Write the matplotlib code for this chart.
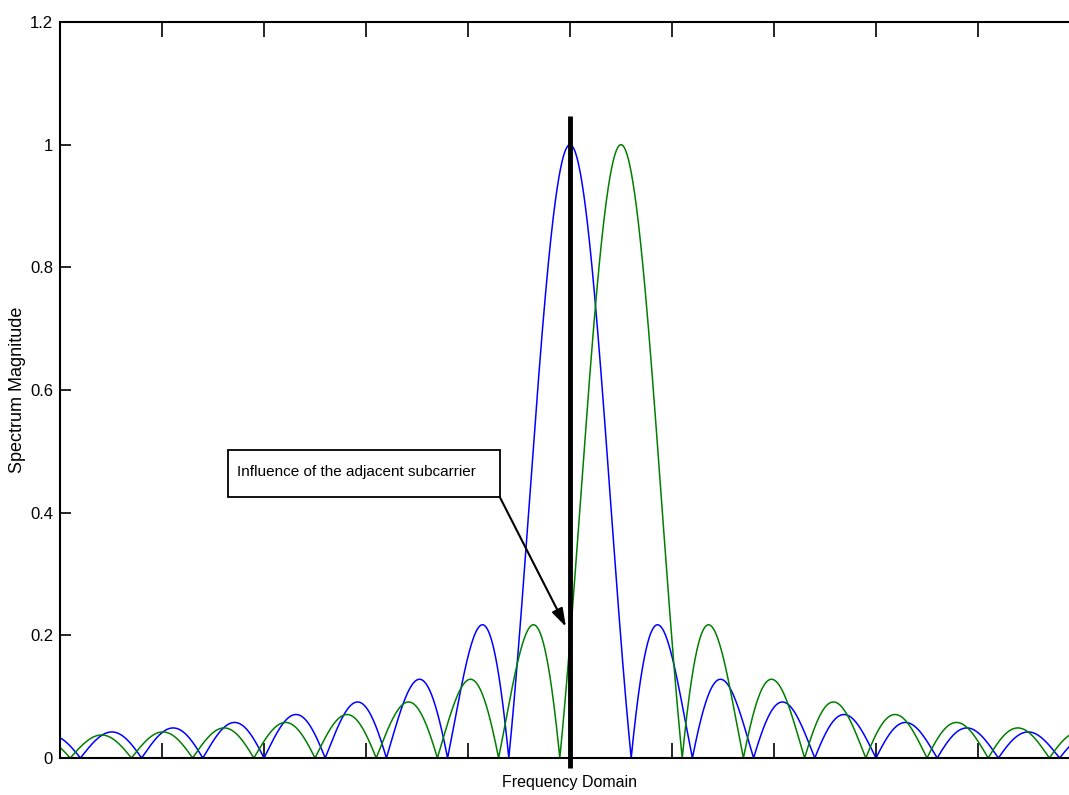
import numpy as np
import matplotlib.pyplot as plt
from matplotlib.patches import Rectangle

# subcarrier spectra: centre frequency and first-null offset (axis units)
carrier_centers = [5.0, 5.5]
carrier_colors = ["#0000ff", "#007f00"]
null_offset = 0.6

x_limits = (0, 10)
y_ticks = [0, 0.2, 0.4, 0.6, 0.8, 1.0, 1.2]
y_tick_labels = ["0", "0.2", "0.4", "0.6", "0.8", "1", "1.2"]
x_ticks = [0, 1, 2, 3, 4, 5, 6, 7, 8, 9, 10]

marker_x = 5.0
marker_span = (-0.016, 1.046)

note_text = "Influence of the adjacent subcarrier"
note_box = (1.65, 0.426, 2.66, 0.076)  # x, y, width, height
note_text_xy = (1.74, 0.466)
arrow_from = (4.31, 0.426)
arrow_to = (4.96, 0.214)

FONT = ["Liberation Sans Narrow", "Liberation Sans", "DejaVu Sans"]


def main():
    fig = plt.figure(figsize=(10.69, 7.95), dpi=100)
    ax = fig.add_axes([60 / 1069, 37 / 795, 1020 / 1069, 736 / 795])

    f = np.linspace(x_limits[0], x_limits[1], 4001)
    for c, col in zip(carrier_centers, carrier_colors):
        mag = np.abs(np.sinc((f - c) / null_offset))
        ax.plot(f, mag, color=col, lw=1.1)

    # sampling instant of the first subcarrier
    ax.plot([marker_x, marker_x], marker_span, color="black", lw=3.5,
            clip_on=False, solid_capstyle="butt", zorder=5)

    bx, by, bw, bh = note_box
    ax.add_patch(Rectangle((bx, by), bw, bh, fc="white", ec="black", lw=1.3,
                           zorder=6))
    ax.text(note_text_xy[0], note_text_xy[1], note_text, fontsize=11, family=FONT,
            va="center", ha="left", zorder=7)
    ax.annotate("", xy=arrow_to, xytext=arrow_from,
                arrowprops=dict(arrowstyle="-|>,head_length=1.1,head_width=0.35",
                                color="black", lw=1.5, shrinkA=0, shrinkB=0),
                zorder=6)

    ax.set_xlim(*x_limits)
    ax.set_ylim(0, 1.2)
    ax.set_xticks(x_ticks)
    ax.set_xticklabels([])
    ax.set_yticks(y_ticks)
    ax.set_yticklabels(y_tick_labels, family=FONT, fontsize=12)
    ax.tick_params(axis="x", direction="in", length=11, width=1.2,
                   top=True, bottom=True)
    ax.tick_params(axis="y", direction="in", length=8, width=1.2,
                   left=True, right=True, pad=5)
    for s in ax.spines.values():
        s.set_linewidth(1.5)

    ax.set_xlabel("Frequency Domain", family=FONT, fontsize=11.5, labelpad=9)
    ax.set_ylabel("Spectrum Magnitude", family=FONT, fontsize=13)
    ax.yaxis.set_label_coords(-34 / 1020, 0.5)

    fig.savefig("out.png", dpi=100)
    plt.close(fig)


if __name__ == "__main__":
    main()
